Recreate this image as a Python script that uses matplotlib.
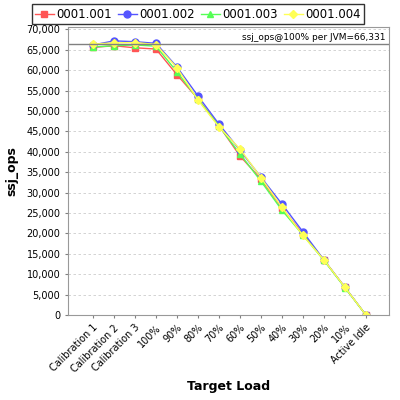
import matplotlib
matplotlib.use("Agg")
import matplotlib.pyplot as plt
from matplotlib.ticker import FuncFormatter, MultipleLocator

categories = ["Calibration 1", "Calibration 2", "Calibration 3", "100%", "90%", "80%",
              "70%", "60%", "50%", "40%", "30%", "20%", "10%", "Active Idle"]

jvm_001 = [65600, 66000, 65500, 65200, 58900, 53000, 46400, 39000, 33300, 26200, 19900, 13500, 6800, 0]
jvm_002 = [66200, 67200, 67000, 66600, 60800, 53700, 46800, 40400, 33800, 27200, 20400, 13500, 6800, 0]
jvm_003 = [65700, 66000, 66200, 65900, 59600, 52900, 46300, 39500, 32800, 25700, 19600, 13400, 6700, 0]
jvm_004 = [66400, 66700, 66800, 66300, 60600, 52700, 46100, 40700, 33700, 26400, 19500, 13500, 6800, 0]

series_names = ["0001.001", "0001.002", "0001.003", "0001.004"]
ref_value = 66331

fig = plt.figure(figsize=(4, 4), dpi=100)
ax = fig.add_axes([0.17, 0.2125, 0.8025, 0.72])

x = list(range(len(categories)))
styles = [("#FF5555", "s"), ("#5555FF", "o"), ("#55FF55", "^"), ("#FFFF55", "D")]
for vals, name, (c, m) in zip([jvm_001, jvm_002, jvm_003, jvm_004], series_names, styles):
    ms = 4 if m == "D" else 5
    ax.plot(x, vals, color=c, marker=m, markersize=ms, lw=1.0, label=name)

ax.axhline(ref_value, color="#808080", lw=1.0)
ax.text(13.95, ref_value + 500, "ssj_ops@100% per JVM=66,331", ha="right", va="bottom", fontsize=6.5)

ax.set_xlim(-1.19, 14.1)
ax.set_ylim(0, 70600)
ax.yaxis.set_major_locator(MultipleLocator(5000))
ax.yaxis.set_major_formatter(FuncFormatter(lambda v, p: f"{int(v):,}"))
ax.set_xticks(x)
ax.set_xticklabels(categories, rotation=45, ha="right", rotation_mode="anchor", fontsize=7)
ax.tick_params(axis="y", labelsize=7, length=2, color="#808080")
ax.tick_params(axis="x", length=2, color="#808080")
ax.grid(axis="y", color="#CCCCCC", ls=(0, (3, 3)), lw=0.6)
for s in ax.spines.values():
    s.set_color("#999999")

ax.set_xlabel("Target Load", fontsize=9, fontweight="bold")
ax.set_ylabel("ssj_ops", fontsize=9, fontweight="bold", labelpad=6)

fig.legend(loc="upper center", bbox_to_anchor=(0.495, 0.995), ncol=4, fontsize=8.4,
           frameon=True, fancybox=False, edgecolor="black", handlelength=1.6,
           handletextpad=0.25, columnspacing=0.5, borderpad=0.3, borderaxespad=0.2)

fig.savefig("out.png", dpi=100)
